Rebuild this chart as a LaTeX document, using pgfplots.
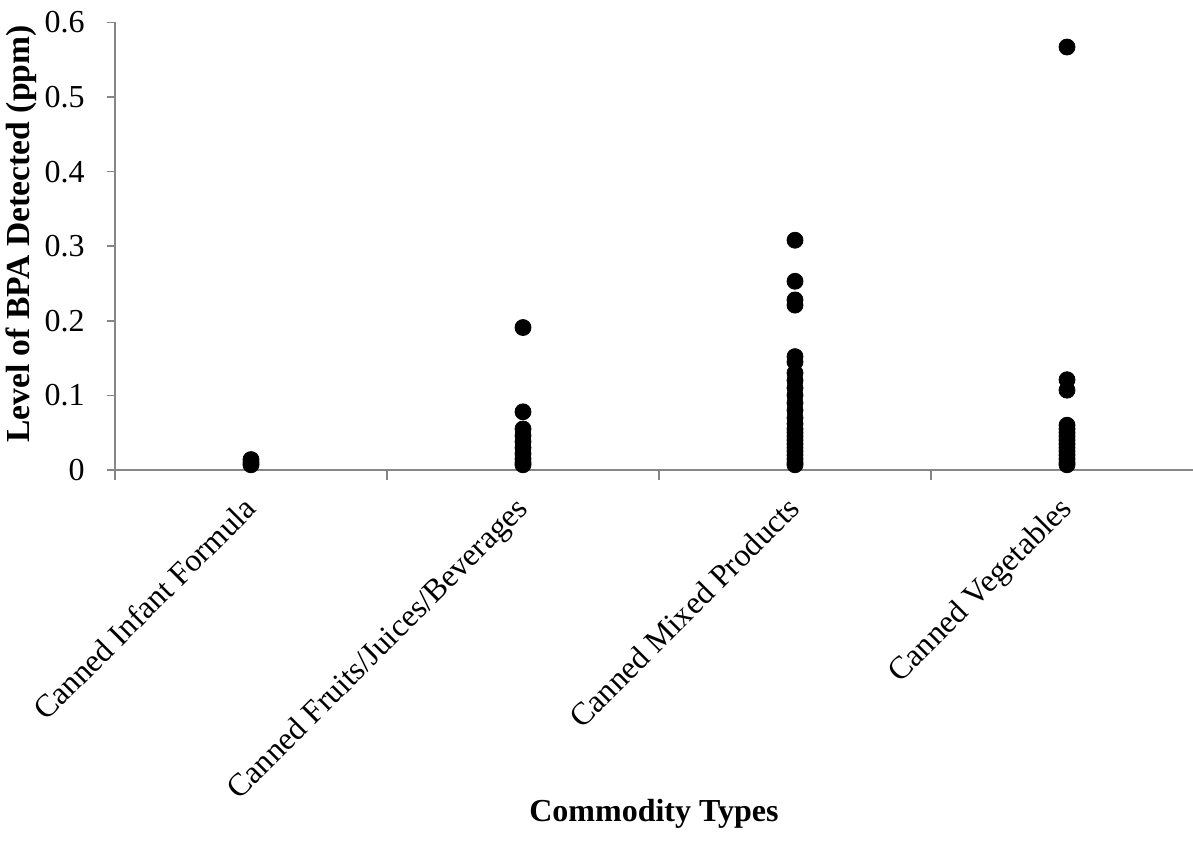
\documentclass[border=0pt]{standalone}
\usepackage{fontspec}
\setmainfont{Liberation Serif}
\usepackage{pgfplots}
\pgfplotsset{compat=1.18}
\usetikzlibrary{calc}
\definecolor{axgray}{HTML}{868686}
\begin{document}
\begin{tikzpicture}
\begin{axis}[
  name=ax,
  x=136pt, y=373pt,
  xmin=-0.5, xmax=3.463,
  ymin=0, ymax=0.6,
  axis x line=bottom, axis y line=left,
  axis line style={-, draw=axgray, line width=0.75pt},
  tick align=outside,
  xtick={0,1,2,3},
  xticklabels={Canned Infant Formula,Canned Fruits/Juices/Beverages,Canned Mixed Products,Canned Vegetables},
  major x tick style={draw=none},
  minor xtick={-0.5,0.5,1.5,2.5},
  minor x tick style={draw=axgray, line width=0.75pt},
  minor tick length=5pt,
  ytick={0,0.1,...,0.6},
  major tick length=4pt,
  y tick style={draw=axgray, line width=0.75pt},
  /pgf/number format/assume math mode=true,
  /pgf/number format/fixed,
  /pgf/number format/precision=1,
  tick label style={font=\fontsize{16}{19}\selectfont},
  x tick label style={rotate=45, anchor=north east, inner sep=0pt, yshift=-2.5pt, xshift=-9pt},
  y tick label style={anchor=east, inner sep=0pt, xshift=-11pt},
  xlabel={Commodity Types},
  ylabel={Level of BPA Detected (ppm)},
  every axis x label/.style={at={(axis description cs:0.5,-0.786)}, anchor=base, font=\fontsize{16}{19}\selectfont\bfseries},
  every axis y label/.style={at={(axis description cs:-0.0872,0.527)}, anchor=center, rotate=90, font=\fontsize{16.8}{20}\selectfont\bfseries},
  clip=false,
]
\addplot[only marks, mark=*, mark size=4pt, black] coordinates {
(0,0.014) (0,0.010) (0,0.007)
(1,0.191) (1,0.078) (1,0.055) (1,0.046) (1,0.038) (1,0.030) (1,0.022) (1,0.015) (1,0.010) (1,0.007)
(2,0.308) (2,0.253) (2,0.228) (2,0.221) (2,0.152) (2,0.145) (2,0.130) (2,0.120) (2,0.110) (2,0.100)
(2,0.090) (2,0.080) (2,0.070) (2,0.062) (2,0.055) (2,0.050) (2,0.045) (2,0.040) (2,0.035) (2,0.030)
(2,0.025) (2,0.020) (2,0.015) (2,0.010) (2,0.007)
(3,0.567) (3,0.121) (3,0.107) (3,0.060) (3,0.055) (3,0.050) (3,0.045) (3,0.040) (3,0.035) (3,0.030)
(3,0.025) (3,0.020) (3,0.015) (3,0.010) (3,0.007)
};
\end{axis}
\pgfresetboundingbox
\useasboundingbox ($(ax.south west)+(-57.5pt,-188pt)$) rectangle ($(ax.south west)+(539pt,235pt)$);
\end{tikzpicture}
\end{document}
